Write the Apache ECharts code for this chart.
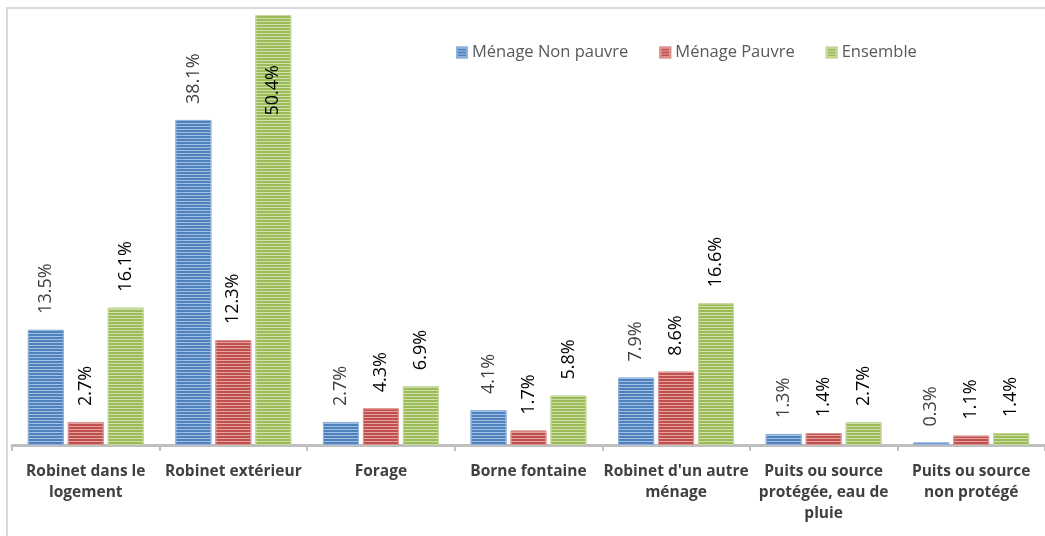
<!DOCTYPE html>
<html>
<head>
<meta charset="utf-8">
<script src="https://cdn.jsdelivr.net/npm/echarts@6/dist/echarts.min.js"></script>
<style>
  html, body { margin: 0; padding: 0; background: #fff; }
  #chart { width: 1045px; height: 536px; }
</style>
</head>
<body>
<div id="chart"></div>
<script>
// Sources d'approvisionnement en eau selon le statut de pauvreté du ménage (%)
const categories = [
  'Robinet dans le\nlogement',
  'Robinet extérieur',
  'Forage',
  'Borne fontaine',
  "Robinet d'un autre\nménage",
  'Puits ou source\nprotégée, eau de\npluie',
  'Puits ou source\nnon protégé'
];
const seriesNames = ['Ménage Non pauvre', 'Ménage Pauvre', 'Ensemble'];
const nonPauvre = [13.5, 38.1, 2.7, 4.1, 7.9, 1.3, 0.3];
const pauvre    = [2.7, 12.3, 4.3, 1.7, 8.6, 1.4, 1.1];
const ensemble  = [16.1, 50.4, 6.9, 5.8, 16.6, 2.7, 1.4];

const FONT = '"Open Sans", "Noto Sans", sans-serif';
const fmt = p => p.value.toFixed(1) + '%';

function stripes(light) {
  return {
    symbol: 'rect',
    symbolSize: 1,
    dashArrayX: [1, 0],
    dashArrayY: [1, 2],
    rotation: 0,
    color: light
  };
}

function barSeries(name, values, base, light, border, labelColor) {
  const maxVal = Math.max(...ensemble);
  return {
    name: name,
    type: 'bar',
    barWidth: 36,
    barGap: '11%',
    itemStyle: {
      color: base,
      borderColor: border,
      borderWidth: 1,
      decal: stripes(light)
    },
    label: {
      show: true,
      position: 'top',
      rotate: 90,
      align: 'left',
      verticalAlign: 'middle',
      distance: 16,
      fontFamily: FONT,
      fontSize: 18,
      color: labelColor,
      formatter: fmt
    },
    data: values.map(v => {
      // the tallest bar carries its label inside, near the top
      if (v === maxVal) {
        return {
          value: v,
          label: { position: 'insideTop', align: 'right', distance: 50 }
        };
      }
      return v;
    })
  };
}

const chart = echarts.init(document.getElementById('chart'), null, { renderer: 'canvas' });

chart.setOption({
  animation: false,
  backgroundColor: '#ffffff',
  graphic: [{
    type: 'rect',
    shape: { x: 7, y: 8, width: 1100, height: 600 },
    style: { fill: 'none', stroke: '#d9d9d9', lineWidth: 2 },
    silent: true
  }],
  legend: {
    left: 456,
    top: 44,
    padding: 0,
    itemWidth: 10,
    itemHeight: 10,
    itemGap: 31,
    icon: 'rect',
    textStyle: { fontFamily: FONT, fontSize: 16.5, color: '#595959' },
    data: seriesNames
  },
  grid: {
    left: 12,
    width: 1036,
    top: 15,
    bottom: 91,
    containLabel: false
  },
  xAxis: {
    type: 'category',
    data: categories,
    axisLine: { show: true, lineStyle: { color: '#bfbfbf', width: 3 } },
    axisTick: { show: true, length: 6, lineStyle: { color: '#bfbfbf', width: 2 } },
    axisLabel: {
      interval: 0,
      margin: 16,
      fontFamily: FONT,
      fontSize: 15.5,
      fontWeight: 'bold',
      color: '#404040',
      lineHeight: 21,
      align: 'center'
    }
  },
  yAxis: {
    type: 'value',
    min: 0,
    max: 50.4,
    show: false,
    splitLine: { show: false }
  },
  series: [
    barSeries(seriesNames[0], nonPauvre, '#4f81bd', 'rgba(190,212,240,0.75)', '#8fb0da', '#404040'),
    barSeries(seriesNames[1], pauvre, '#c0504d', 'rgba(240,190,190,0.75)', '#dc9492', '#000000'),
    barSeries(seriesNames[2], ensemble, '#9bbb59', 'rgba(220,234,190,0.8)', '#c3d89a', '#000000')
  ]
});
</script>
</body>
</html>
